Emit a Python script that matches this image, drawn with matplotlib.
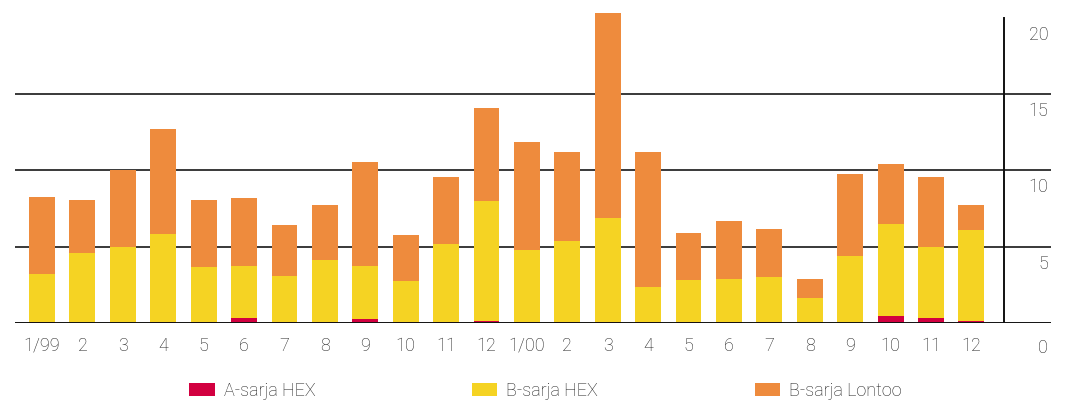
import matplotlib
matplotlib.use("Agg")
import matplotlib.pyplot as plt
import matplotlib.transforms as mtransforms
import numpy as np

plt.rcParams['font.family'] = ['Roboto', 'DejaVu Sans']
plt.rcParams['font.weight'] = 'light'

months = ['1/99', '2', '3', '4', '5', '6', '7', '8', '9', '10', '11', '12',
          '1/00', '2', '3', '4', '5', '6', '7', '8', '9', '10', '11', '12']
# A-sarja HEX (red)
a_hex = [0.07, 0.0, 0.0, 0.07, 0.07, 0.33, 0.07, 0.07, 0.26, 0.07, 0.07, 0.13,
         0.07, 0.07, 0.07, 0.07, 0.07, 0.07, 0.07, 0.0, 0.0, 0.46, 0.33, 0.13]
# top of yellow (A + B HEX)
hex_top = [3.21, 4.59, 4.98, 5.83, 3.67, 3.73, 3.08, 4.13, 3.73, 2.75, 5.17, 7.99,
           4.78, 5.37, 6.88, 2.36, 2.82, 2.88, 3.01, 1.64, 4.39, 6.48, 4.98, 6.09]
# total
total = [8.25, 8.06, 10.02, 12.71, 8.06, 8.19, 6.42, 7.73, 10.55, 5.76, 9.56, 14.08,
         11.86, 11.20, 20.31, 11.20, 5.90, 6.68, 6.16, 2.88, 9.76, 10.41, 9.56, 7.73]
b_hex = [h - a for h, a in zip(hex_top, a_hex)]
b_lontoo = [t - h for t, h in zip(total, hex_top)]

yticks = [0, 5, 10, 15, 20]
labels = ['A-sarja HEX', 'B-sarja HEX', 'B-sarja Lontoo']
colors = ['#D20040', '#F5D323', '#EE8B3D']
txt = '#1e1e1e'

fig = plt.figure(figsize=(10.68, 4.03), dpi=100)
ax = fig.add_axes([15/1068, 1-323/403, (1051-15)/1068, (323-10)/403])

x = np.arange(len(months))
w = 0.64
ax.bar(x, a_hex, w, color=colors[0], label=labels[0], zorder=3)
ax.bar(x, b_hex, w, bottom=a_hex, color=colors[1], label=labels[1], zorder=3)
ax.bar(x, b_lontoo, w, bottom=hex_top, color=colors[2], label=labels[2], zorder=3)

ax.set_xlim(-0.668, 24.97)
ax.set_ylim(0, 20.5)
for s in ax.spines.values():
    s.set_visible(False)

for v in [5, 10, 15]:
    ax.axhline(v, color='#2a2a2a', lw=1.3, zorder=1)
ax.axhline(0, color='#111111', lw=1.4, zorder=4)
ax.axvline(23.8, ymin=0, ymax=20/20.5, color='#111111', lw=1.4, zorder=4)

ax.set_xticks(x)
ax.set_xticklabels(months, fontsize=13, color=txt)
ax.tick_params(axis='x', length=0, pad=10)
ax.set_yticks([])

for v in yticks:
    dy = -11.8/72 if v == 0 else -5.8/72
    off = mtransforms.ScaledTranslation(-2/72, dy, fig.dpi_scale_trans)
    tr = mtransforms.blended_transform_factory(ax.transAxes, ax.transData) + off
    ax.text(1.0, v, str(v), transform=tr, ha='right', va='top',
            fontsize=13, color=txt)

leg = fig.legend(loc='center', bbox_to_anchor=(0.511, 0.03), ncol=3,
                 frameon=False, fontsize=13, handlelength=1.39, handleheight=0.78,
                 handletextpad=0.5, columnspacing=8.7, labelcolor=txt)

fig.savefig('out.png', dpi=100)
